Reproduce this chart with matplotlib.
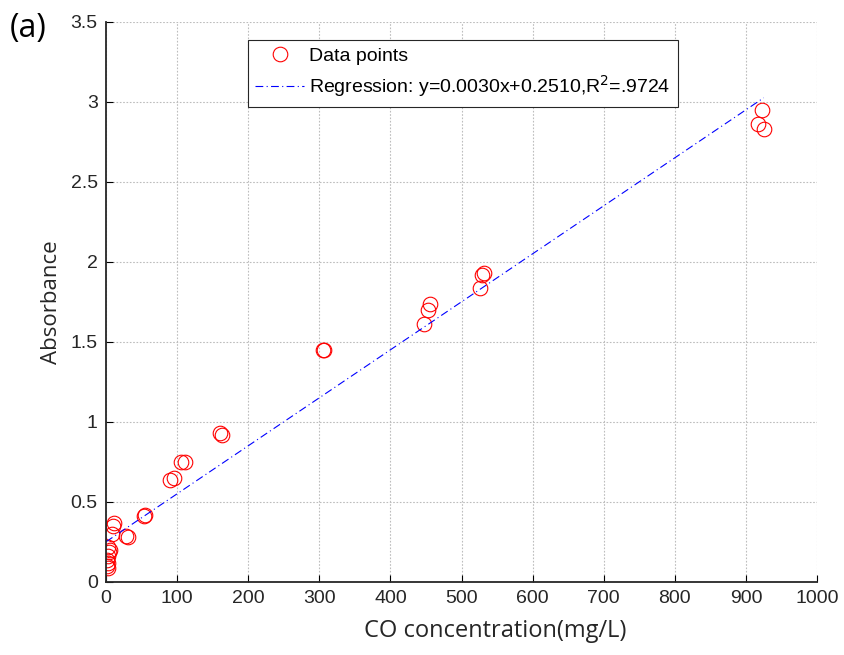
import matplotlib.pyplot as plt
import numpy as np

# CO calibration measurements (mg/L vs absorbance)
co_conc = [3, 4, 3, 2, 3, 2, 3, 5, 8, 10, 11, 28, 31, 53, 55,
           90, 96, 105, 111, 160, 163, 305, 307,
           447, 453, 456, 526, 529, 532, 917, 923, 925]
absorbance = [0.22, 0.19, 0.16, 0.14, 0.12, 0.10, 0.09, 0.20, 0.30, 0.35, 0.37, 0.29, 0.28, 0.41, 0.42,
              0.64, 0.65, 0.75, 0.75, 0.93, 0.92, 1.45, 1.45,
              1.61, 1.70, 1.74, 1.84, 1.92, 1.93, 2.86, 2.95, 2.83]

SLOPE = 0.0030
INTERCEPT = 0.2510
R2_TEXT = ".9724"

x_ticks = [0, 100, 200, 300, 400, 500, 600, 700, 800, 900, 1000]
y_ticks = [0, 0.5, 1, 1.5, 2, 2.5, 3, 3.5]
y_tick_labels = ["0", "0.5", "1", "1.5", "2", "2.5", "3", "3.5"]

TICK_FONT = "Liberation Sans"
LABEL_FONT = "Open Sans"

fig = plt.figure(figsize=(8.44, 6.55), dpi=100)
ax = fig.add_axes([0.1256, 0.1115, 0.8425, 0.855])

fit_x = np.array([0, max(co_conc)])
fit_y = SLOPE * fit_x + INTERCEPT

ax.plot(co_conc, absorbance, linestyle="none", marker="o", markersize=10.5,
        markerfacecolor="none", markeredgecolor="red", markeredgewidth=0.8,
        label="Data points")
ax.plot(fit_x, fit_y, color="blue", linestyle="-.", linewidth=0.8,
        dashes=(7, 3, 1, 3),
        label=f"Regression: y={SLOPE:.4f}x+{INTERCEPT:.4f},R$^2$={R2_TEXT}")

ax.set_xlim(0, 1000)
ax.set_ylim(0, 3.5)
ax.set_xticks(x_ticks)
ax.set_yticks(y_ticks)
ax.set_yticklabels(y_tick_labels)
ax.tick_params(direction="in", length=5, width=0.8, labelsize=14, pad=6)
for lbl in ax.get_xticklabels() + ax.get_yticklabels():
    lbl.set_fontfamily(TICK_FONT)
    lbl.set_color("#262626")

ax.grid(True, color="#bdbdbd", linestyle=(0, (1.5, 1.5)), linewidth=0.8)
ax.set_axisbelow(True)
for side in ("top", "right"):
    ax.spines[side].set_visible(False)
for side in ("left", "bottom"):
    ax.spines[side].set_linewidth(1.3)
    ax.spines[side].set_color("#262626")

ax.set_xlabel("CO concentration(mg/L)", fontsize=17, family=LABEL_FONT, color="#262626")
ax.xaxis.set_label_coords(0.548, -0.067)
ax.set_ylabel("Absorbance", fontsize=16, family=LABEL_FONT, color="#262626", labelpad=6)

leg = ax.legend(loc="upper left", bbox_to_anchor=(0.199, 0.968), borderaxespad=0,
                fancybox=False, framealpha=1, edgecolor="#262626",
                handlelength=2.5, handletextpad=0.25, borderpad=0.4, labelspacing=0.4,
                prop={"family": TICK_FONT, "size": 14})
leg.get_frame().set_linewidth(0.8)

fig.text(0.012, 0.957, "(a)", fontsize=23, family=LABEL_FONT, color="black", va="center")

fig.savefig("out.png", dpi=100)
